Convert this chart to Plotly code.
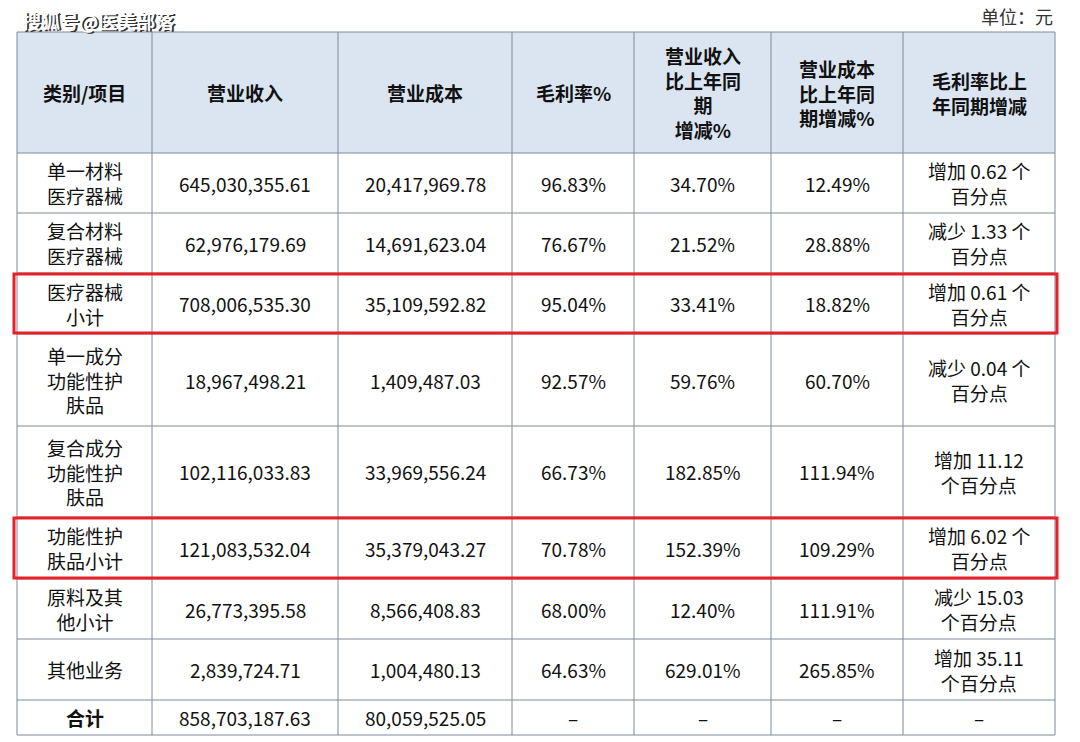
import plotly.graph_objects as go

headers = ["类别/项目", "营业收入", "营业成本", "毛利率%", "营业收入<br>比上年同<br>期<br>增减%", "营业成本<br>比上年同<br>期增减%", "毛利率比上<br>年同期增减"]
categories = ["单一材料<br>医疗器械", "复合材料<br>医疗器械", "医疗器械<br>小计", "单一成分<br>功能性护<br>肤品", "复合成分<br>功能性护<br>肤品", "功能性护<br>肤品小计", "原料及其<br>他小计", "其他业务", "<b>合计</b>"]
revenue = ["645,030,355.61", "62,976,179.69", "708,006,535.30", "18,967,498.21", "102,116,033.83", "121,083,532.04", "26,773,395.58", "2,839,724.71", "858,703,187.63"]
cost = ["20,417,969.78", "14,691,623.04", "35,109,592.82", "1,409,487.03", "33,969,556.24", "35,379,043.27", "8,566,408.83", "1,004,480.13", "80,059,525.05"]
margin = ["96.83%", "76.67%", "95.04%", "92.57%", "66.73%", "70.78%", "68.00%", "64.63%", "–"]
rev_chg = ["34.70%", "21.52%", "33.41%", "59.76%", "182.85%", "152.39%", "12.40%", "629.01%", "–"]
cost_chg = ["12.49%", "28.88%", "18.82%", "60.70%", "111.94%", "109.29%", "111.91%", "265.85%", "–"]
margin_chg = ["增加 0.62 个<br>百分点", "减少 1.33 个<br>百分点", "增加 0.61 个<br>百分点", "减少 0.04 个<br>百分点", "增加 11.12<br>个百分点", "增加 6.02 个<br>百分点", "减少 15.03<br>个百分点", "增加 35.11<br>个百分点", "–"]
highlight_rows = [2, 5]

col_x = [17, 152, 338, 512, 634, 771, 903, 1055]
row_y = [32, 153, 213, 273, 334, 426, 517, 579, 639, 700, 735]

fig = go.Figure()
shapes = []
ann = []
font = dict(family="Noto Sans CJK SC", size=19, color="#111")
shapes.append(dict(type="rect", x0=col_x[0], x1=col_x[-1], y0=row_y[0], y1=row_y[1], fillcolor="#dbe5f1", line_width=0, layer="below"))
for x in col_x:
    shapes.append(dict(type="line", x0=x, x1=x, y0=row_y[0], y1=row_y[-1], line=dict(color="#7f8a99", width=1)))
for y in row_y:
    shapes.append(dict(type="line", x0=col_x[0], x1=col_x[-1], y0=y, y1=y, line=dict(color="#7f8a99", width=1)))
for r in highlight_rows:
    shapes.append(dict(type="rect", x0=col_x[0] - 3, x1=col_x[-1] + 2, y0=row_y[r + 1] + 1, y1=row_y[r + 2] - 1, line=dict(color="#e8202a", width=3)))

def cell(ci, y0, y1, text, bold=False):
    ann.append(dict(x=(col_x[ci] + col_x[ci + 1]) / 2, y=(y0 + y1) / 2, text=f"<b>{text}</b>" if bold else text,
                    showarrow=False, font=font, xanchor="center", yanchor="middle", align="center"))

for ci, h in enumerate(headers):
    cell(ci, row_y[0], row_y[1], h, bold=True)
cols = [categories, revenue, cost, margin, rev_chg, cost_chg, margin_chg]
for ri in range(len(categories)):
    for ci, col in enumerate(cols):
        cell(ci, row_y[ri + 1], row_y[ri + 2], col[ri])

ann.append(dict(x=1055, y=16, text="单位：元", showarrow=False, xanchor="right", yanchor="middle", font=dict(family="Noto Sans CJK SC", size=18, color="#333")))
ann.append(dict(x=21.5, y=21.5, text="<b>搜狐号@医美部落</b>", showarrow=False, xanchor="left", yanchor="middle", font=dict(family="Noto Sans CJK SC", size=19, color="#333")))
ann.append(dict(x=20, y=20, text="<b>搜狐号@医美部落</b>", showarrow=False, xanchor="left", yanchor="middle", font=dict(family="Noto Sans CJK SC", size=19, color="white")))

# page body adds an 8px offset; shift the axis ranges to compensate
fig.update_layout(width=1080, height=742, margin=dict(l=0, r=0, t=0, b=0, autoexpand=False), plot_bgcolor="white", paper_bgcolor="white",
                  shapes=shapes, annotations=ann,
                  xaxis=dict(range=[8, 1088], visible=False, fixedrange=True),
                  yaxis=dict(range=[750, 8], visible=False, fixedrange=True))
fig.write_html("out.html", config={"displayModeBar": False})
